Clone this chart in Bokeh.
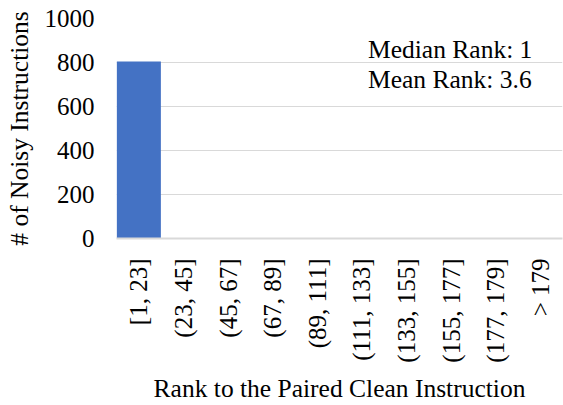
import math
from bokeh.plotting import figure
from bokeh.models import ColumnDataSource, Label, FixedTicker
from bokeh.embed import file_html
from bokeh.resources import INLINE

categories = ["[1, 23]", "(23, 45]", "(45, 67]", "(67, 89]", "(89, 111]",
              "(111, 133]", "(133, 155]", "(155, 177]", "(177, 179]", "> 179"]
counts = [805, 0, 2, 0, 2, 0, 2, 2, 2, 0]
y_ticks = [0, 200, 400, 600, 800, 1000]
notes = ["Median Rank: 1", "Mean Rank: 3.6"]

FONT = "'Liberation Serif', serif"

p = figure(x_range=categories, y_range=(0, 1000), width=563, height=405,
           output_backend="svg", toolbar_location=None,
           min_border_left=116, min_border_right=1, min_border_top=18, min_border_bottom=166)
p.outline_line_color = None

src = ColumnDataSource(dict(cat=categories, val=counts))
p.vbar(x="cat", top="val", width=0.99, source=src, fill_color="#4472c4", line_color=None)

p.yaxis[0].ticker = FixedTicker(ticks=y_ticks)
p.ygrid.grid_line_color = "#d9d9d9"
p.ygrid.grid_line_width = 1
p.xgrid.grid_line_color = None

for ax in (p.xaxis[0], p.yaxis[0]):
    ax.major_tick_line_color = None
    ax.minor_tick_line_color = None
    ax.major_label_text_font = FONT
    ax.major_label_text_font_size = "25px"
    ax.major_label_text_color = "#000000"
    ax.axis_label_text_font = FONT
    ax.axis_label_text_font_size = "25.5px"
    ax.axis_label_text_font_style = "normal"
    ax.axis_label_text_color = "#000000"

p.yaxis[0].axis_line_color = None
p.yaxis[0].major_label_standoff = 16
p.yaxis[0].axis_label = "# of Noisy Instructions"
p.yaxis[0].axis_label_standoff = 8

p.xaxis[0].axis_line_color = "#d9d9d9"
p.xaxis[0].axis_line_width = 2
p.xaxis[0].major_label_orientation = math.pi / 2
p.xaxis[0].major_label_standoff = 14
p.xaxis[0].axis_label = "Rank to the Paired Clean Instruction"
p.xaxis[0].axis_label_standoff = 8

for t, yv in zip(notes, [860, 724]):
    p.add_layout(Label(x=5.64, y=yv, text=t, text_font=FONT, text_font_size="25.5px",
                       text_baseline="middle", text_align="left", text_color="#000000"))

open("out.html", "w").write(file_html(p, INLINE))
